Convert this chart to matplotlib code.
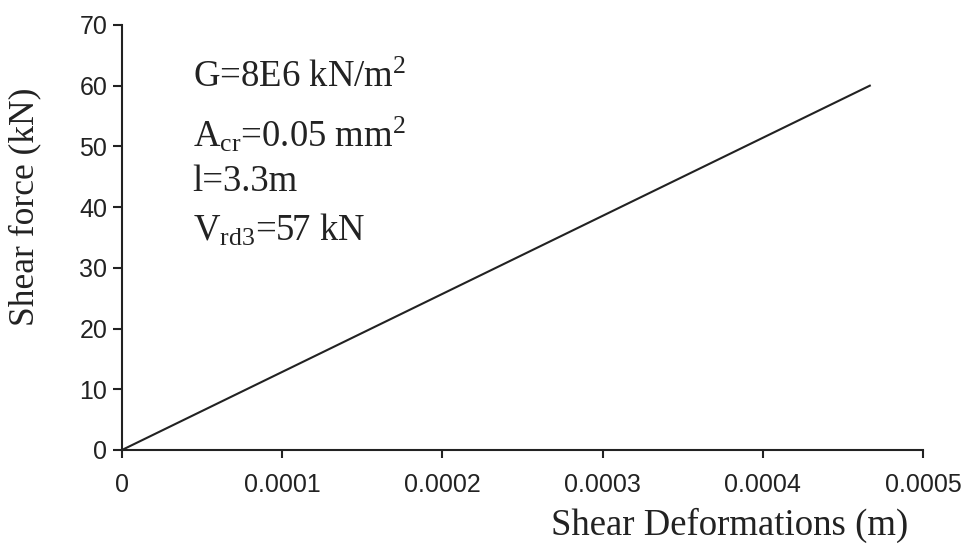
import matplotlib
matplotlib.use("Agg")
import matplotlib.pyplot as plt

shear_force_kN = [0, 10, 20, 30, 40, 50, 60]
shear_deformation_m = [0.0, 0.0000778, 0.0001556, 0.0002334, 0.0003112, 0.000389, 0.0004668]
x_ticks = [0, 0.0001, 0.0002, 0.0003, 0.0004, 0.0005]
x_tick_labels = ["0", "0.0001", "0.0002", "0.0003", "0.0004", "0.0005"]
y_ticks = [0, 10, 20, 30, 40, 50, 60, 70]

plt.rcParams["font.family"] = ["Liberation Sans", "DejaVu Sans"]
plt.rcParams["mathtext.fontset"] = "custom"
plt.rcParams["mathtext.rm"] = "Liberation Serif"
plt.rcParams["mathtext.it"] = "Liberation Serif"

ink = "#222222"
serif = ["Liberation Serif", "DejaVu Serif"]

fig = plt.figure(figsize=(9.68, 5.52), dpi=100)
ax = fig.add_axes([0.126, 0.1848, 0.8275, 0.77])

ax.plot(shear_deformation_m, shear_force_kN, color=ink, lw=1.5)

ax.set_xlim(0, 0.0005)
ax.set_ylim(0, 70)
ax.set_xticks(x_ticks)
ax.set_xticklabels(x_tick_labels)
ax.set_yticks(y_ticks)

for side in ("top", "right"):
    ax.spines[side].set_visible(False)
for side in ("left", "bottom"):
    ax.spines[side].set_linewidth(1.5)
    ax.spines[side].set_color(ink)

ax.tick_params(axis="y", direction="out", length=6.5, width=1.5, color=ink,
               labelsize=18, labelcolor=ink, pad=4)
ax.tick_params(axis="x", direction="out", length=5.5, width=1.5, color=ink,
               labelsize=18, labelcolor=ink, pad=11)

fig.text(0.754, 0.048, "Shear Deformations (m)", family=serif, fontsize=26.5,
         color=ink, ha="center", va="center")
fig.text(0.026, 0.625, "Shear force (kN)", family=serif, fontsize=25.5,
         color=ink, ha="center", va="center", rotation=90)

notes = [
    r"G=8E6 kN/m$^2$",
    r"A$_{\mathrm{cr}}$=0.05 mm$^2$",
    r"l=3.3m",
    r"V$_{\mathrm{rd3}}$=57 kN",
]
note_y = [0.842, 0.734, 0.654, 0.565]
for txt, yy in zip(notes, note_y):
    fig.text(0.199, yy, txt, family=serif, fontsize=26.5, color=ink,
             ha="left", va="baseline")

fig.savefig("out.png", dpi=100)
